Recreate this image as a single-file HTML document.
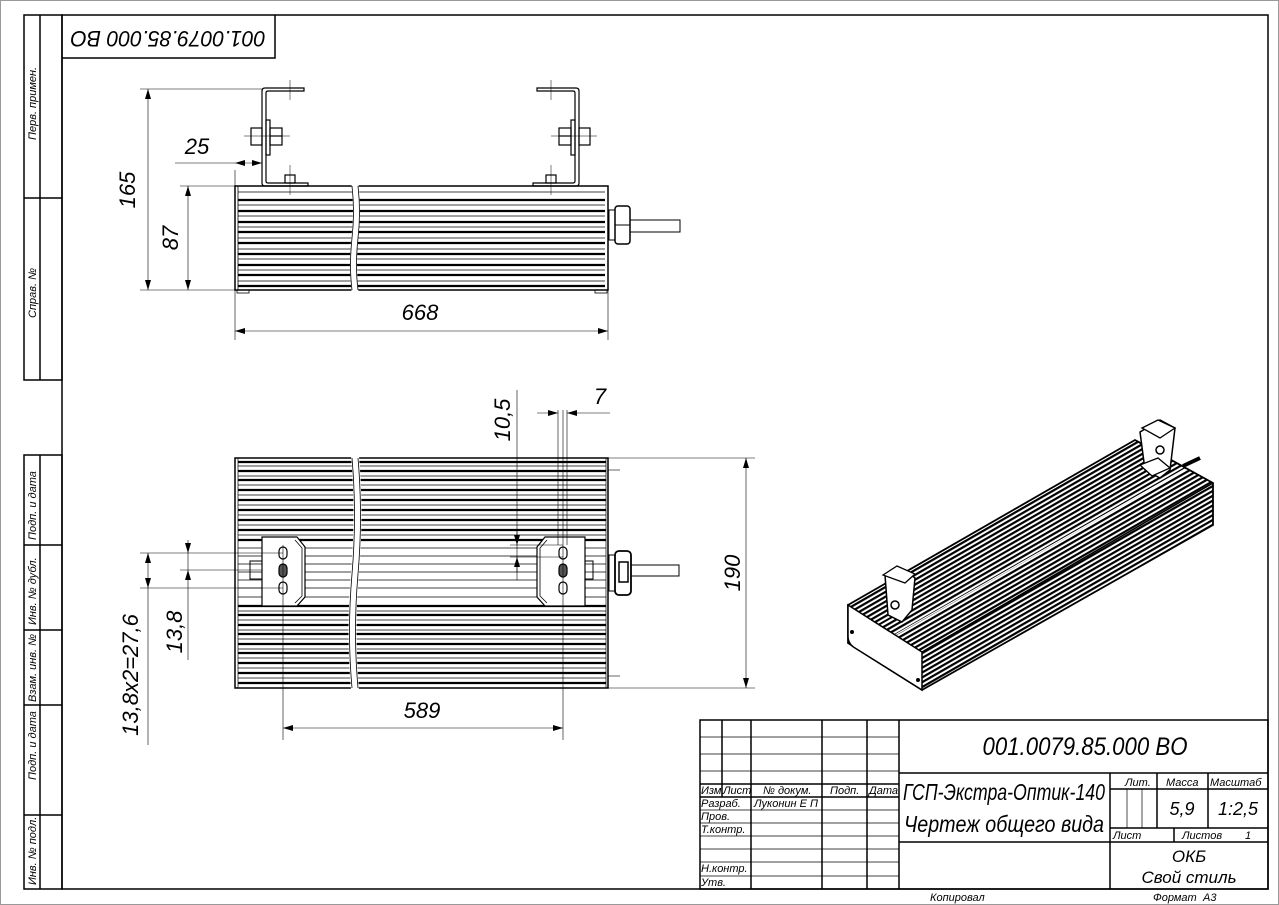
<!DOCTYPE html>
<html><head><meta charset="utf-8"><style>
html,body{margin:0;padding:0;background:#fff}
svg{display:block}
text{font-family:"Liberation Sans",sans-serif;font-style:italic;fill:#000}
</style></head><body>
<svg width="1279" height="905" viewBox="0 0 1279 905" xmlns="http://www.w3.org/2000/svg">
<defs>
<pattern id="st" width="20" height="4.2" patternUnits="userSpaceOnUse" patternTransform="rotate(-29.9)">
<rect width="20" height="4.2" fill="#fff"/><rect y="0" width="20" height="2.2" fill="#000"/>
</pattern>
<marker id="ar" viewBox="0 0 10 6" refX="10" refY="3" markerWidth="10" markerHeight="6" orient="auto-start-reverse" markerUnits="userSpaceOnUse"><path d="M0,0 L10,3 L0,6z" fill="#000"/></marker>
</defs>
<rect x="0.5" y="0.5" width="1278" height="904" fill="none" stroke="#999" stroke-width="1"/>
<!-- frame -->
<g stroke="#000" fill="none" stroke-width="1.5">
<rect x="62" y="15" width="1206" height="874"/>
<rect x="24" y="15" width="38" height="365"/>
<line x1="40" y1="15" x2="40" y2="380"/>
<line x1="24" y1="198" x2="62" y2="198"/>
<rect x="24" y="455" width="38" height="434"/>
<line x1="40" y1="455" x2="40" y2="889"/>
<line x1="24" y1="545" x2="62" y2="545"/>
<line x1="24" y1="630" x2="62" y2="630"/>
<line x1="24" y1="705" x2="62" y2="705"/>
<line x1="24" y1="815" x2="62" y2="815"/>
<polyline points="62,58 275,58 275,15"/>
</g>
<g font-size="11">
<text transform="translate(36,140) rotate(-90)">Перв. примен.</text>
<text transform="translate(36,318) rotate(-90)">Справ. №</text>
<text transform="translate(36,540) rotate(-90)">Подп. и дата</text>
<text transform="translate(36,625) rotate(-90)">Инв. № дубл.</text>
<text transform="translate(36,702) rotate(-90)">Взам. инв. №</text>
<text transform="translate(36,780) rotate(-90)">Подп. и дата</text>
<text transform="translate(36,885) rotate(-90)">Инв. № подл.</text>
</g>
<text transform="translate(168,37) rotate(180)" font-size="22" text-anchor="middle" dominant-baseline="middle" textLength="195" lengthAdjust="spacingAndGlyphs">001.0079.85.000 BO</text>

<!-- TOP VIEW (side) -->
<g stroke="#000" fill="none">
<rect x="235" y="186" width="373" height="104" stroke-width="1.5"/>
<g stroke-width="2.2">
<line x1="238" y1="200" x2="605" y2="200"/><line x1="238" y1="211" x2="605" y2="211"/><line x1="238" y1="222" x2="605" y2="222"/><line x1="238" y1="232" x2="605" y2="232"/><line x1="238" y1="243" x2="605" y2="243"/><line x1="238" y1="254" x2="605" y2="254"/><line x1="238" y1="265" x2="605" y2="265"/><line x1="238" y1="275" x2="605" y2="275"/><line x1="238" y1="286" x2="605" y2="286"/>
</g>
<g stroke-width="0.8">
<line x1="238" y1="192" x2="605" y2="192"/><line x1="238" y1="205" x2="605" y2="205"/><line x1="238" y1="216" x2="605" y2="216"/><line x1="238" y1="227" x2="605" y2="227"/><line x1="238" y1="238" x2="605" y2="238"/><line x1="238" y1="249" x2="605" y2="249"/><line x1="238" y1="259" x2="605" y2="259"/><line x1="238" y1="270" x2="605" y2="270"/><line x1="238" y1="281" x2="605" y2="281"/>
<line x1="238" y1="186" x2="238" y2="290"/>
</g>
<path d="M352,184 q3,26 0,52 q-3,28 0,56 L358,292 q-3,-28 0,-56 q3,-26 0,-52z" fill="#fff" stroke="#fff" stroke-width="1"/>
<path d="M352,186 q3,26 0,52 q-3,28 0,52 M358,186 q3,26 0,52 q-3,28 0,52" stroke-width="0.8"/>
<rect x="237" y="290" width="12" height="3" stroke-width="0.8"/><rect x="595" y="290" width="12" height="3" stroke-width="0.8"/>
<rect x="609" y="210" width="6" height="30" stroke-width="1"/>
<rect x="615" y="206" width="15" height="38" rx="3" stroke-width="1.5"/>
<line x1="615" y1="225" x2="630" y2="225"/>
<rect x="630" y="220" width="50" height="12" stroke-width="1"/>
<g id="br" stroke-width="1.2">
<path d="M304,88 L265,88 Q262,88 262,91 L262,183 Q262,186 265,186 L308,186 L308,183 L268,183 Q266,183 266,181 L266,93 Q266,91 268,91 L304,91z"/>
<rect x="251" y="128" width="11" height="17"/>
<rect x="266" y="120" width="4" height="35"/>
<rect x="270" y="128" width="12" height="17"/>
<line x1="270" y1="136" x2="282" y2="136"/>
<rect x="285" y="175" width="10" height="8"/>
<line x1="290" y1="165" x2="290" y2="195" stroke-width="0.5"/>
<line x1="290" y1="80" x2="290" y2="100" stroke-width="0.5"/>
<line x1="244" y1="136" x2="290" y2="136" stroke-width="0.5"/>
</g>
<use href="#br" transform="matrix(-1,0,0,1,841,0)"/>
<g stroke-width="0.6">
<line x1="140" y1="89" x2="262" y2="89"/><line x1="140" y1="290" x2="235" y2="290"/>
<line x1="148" y1="89" x2="148" y2="290" marker-start="url(#ar)" marker-end="url(#ar)"/>
<line x1="180" y1="186" x2="235" y2="186"/>
<line x1="188" y1="186" x2="188" y2="290" marker-start="url(#ar)" marker-end="url(#ar)"/>
<line x1="235" y1="290" x2="235" y2="340"/><line x1="608" y1="290" x2="608" y2="340"/>
<line x1="235" y1="331" x2="608" y2="331" marker-start="url(#ar)" marker-end="url(#ar)"/>
<line x1="235" y1="170" x2="235" y2="186"/>
<line x1="175" y1="163" x2="235" y2="163"/>
<line x1="235" y1="163" x2="262" y2="163" marker-start="url(#ar)" marker-end="url(#ar)"/>
</g>
</g>
<g font-size="22">
<text transform="translate(135,190) rotate(-90)" text-anchor="middle">165</text>
<text transform="translate(178,238) rotate(-90)" text-anchor="middle">87</text>
<text x="420" y="320" text-anchor="middle">668</text>
<text x="197" y="154" text-anchor="middle">25</text>
</g>

<!-- BOTTOM VIEW -->
<g stroke="#000" fill="none">
<rect x="235" y="458" width="373" height="230" stroke-width="1.5"/>
<g stroke-width="2.2">
<line x1="238" y1="462" x2="606" y2="462"/><line x1="238" y1="471" x2="606" y2="471"/><line x1="238" y1="480" x2="606" y2="480"/><line x1="238" y1="490" x2="606" y2="490"/><line x1="238" y1="500" x2="606" y2="500"/><line x1="238" y1="510" x2="606" y2="510"/><line x1="238" y1="520" x2="606" y2="520"/><line x1="238" y1="530" x2="606" y2="530"/><line x1="238" y1="540" x2="606" y2="540"/>
<line x1="238" y1="606" x2="606" y2="606"/><line x1="238" y1="615" x2="606" y2="615"/><line x1="238" y1="625" x2="606" y2="625"/><line x1="238" y1="634" x2="606" y2="634"/><line x1="238" y1="644" x2="606" y2="644"/><line x1="238" y1="653" x2="606" y2="653"/><line x1="238" y1="663" x2="606" y2="663"/><line x1="238" y1="673" x2="606" y2="673"/><line x1="238" y1="683" x2="606" y2="683"/>
</g>
<g stroke-width="0.7">
<line x1="238" y1="466" x2="606" y2="466"/><line x1="238" y1="476" x2="606" y2="476"/><line x1="238" y1="485" x2="606" y2="485"/><line x1="238" y1="495" x2="606" y2="495"/><line x1="238" y1="505" x2="606" y2="505"/><line x1="238" y1="515" x2="606" y2="515"/><line x1="238" y1="525" x2="606" y2="525"/><line x1="238" y1="535" x2="606" y2="535"/>
<line x1="238" y1="548" x2="606" y2="548"/><line x1="238" y1="556" x2="606" y2="556"/><line x1="238" y1="564" x2="606" y2="564"/><line x1="238" y1="572" x2="606" y2="572"/><line x1="238" y1="580" x2="606" y2="580"/><line x1="238" y1="588" x2="606" y2="588"/><line x1="238" y1="597" x2="606" y2="597"/>
<line x1="238" y1="611" x2="606" y2="611"/><line x1="238" y1="620" x2="606" y2="620"/><line x1="238" y1="630" x2="606" y2="630"/><line x1="238" y1="639" x2="606" y2="639"/><line x1="238" y1="649" x2="606" y2="649"/><line x1="238" y1="658" x2="606" y2="658"/><line x1="238" y1="668" x2="606" y2="668"/><line x1="238" y1="678" x2="606" y2="678"/>
<line x1="238" y1="458" x2="238" y2="688"/><line x1="606" y1="458" x2="606" y2="688"/>
</g>
<path d="M351,456 q5,58 0,116 q-5,58 0,118 L359,690 q-5,-60 0,-118 q5,-58 0,-116z" fill="#fff" stroke="none"/>
<path d="M352,458 q5,58 0,116 q-5,58 0,114 M358,458 q5,58 0,116 q-5,58 0,114" stroke-width="0.8"/>
<path d="M262,537 L297,537 L305,547 L305,597 L297,606 L262,606z" fill="#fff" stroke-width="1.2"/>
<path d="M295,540 L302,548 L302,596 L295,603" stroke-width="0.8"/>
<rect x="250" y="561" width="12" height="18" stroke-width="1"/>
<path d="M585,537 L545,537 L537,547 L537,597 L545,606 L585,606z" fill="#fff" stroke-width="1.2"/>
<path d="M547,540 L540,548 L540,596 L547,603" stroke-width="0.8"/>
<rect x="585" y="561" width="8" height="18" stroke-width="1"/>
<g stroke-width="1.2">
<rect x="279" y="547" width="8" height="12" rx="4"/><rect x="279" y="564" width="8" height="13" rx="4" fill="#555"/><rect x="279" y="582" width="8" height="12" rx="4"/>
<rect x="559" y="547" width="8" height="12" rx="4"/><rect x="559" y="564" width="8" height="13" rx="4" fill="#555"/><rect x="559" y="582" width="8" height="12" rx="4"/>
</g>
<rect x="609" y="555" width="6" height="36" stroke-width="1"/>
<rect x="615" y="551" width="16" height="44" rx="4" stroke-width="1.8"/>
<rect x="619" y="562" width="9" height="20" stroke-width="1.5"/>
<rect x="631" y="565" width="48" height="11" stroke-width="1"/>
<line x1="608" y1="470" x2="620" y2="470" stroke-width="0.6"/><line x1="608" y1="676" x2="620" y2="676" stroke-width="0.6"/>
<g stroke-width="0.6">
<line x1="608" y1="458" x2="755" y2="458"/><line x1="608" y1="688" x2="755" y2="688"/>
<line x1="746" y1="458" x2="746" y2="688" marker-start="url(#ar)" marker-end="url(#ar)"/>
<line x1="283" y1="545" x2="283" y2="740"/><line x1="563" y1="545" x2="563" y2="740"/>
<line x1="563" y1="410" x2="563" y2="545"/><line x1="558" y1="410" x2="558" y2="545"/><line x1="567" y1="410" x2="567" y2="545"/>
<line x1="283" y1="728" x2="563" y2="728" marker-start="url(#ar)" marker-end="url(#ar)"/>
<line x1="140" y1="553" x2="283" y2="553"/><line x1="140" y1="588" x2="283" y2="588"/>
<line x1="180" y1="570" x2="262" y2="570"/>
<line x1="148" y1="553" x2="148" y2="588" marker-start="url(#ar)" marker-end="url(#ar)"/>
<line x1="148" y1="588" x2="148" y2="745"/>
<line x1="188" y1="540" x2="188" y2="553" marker-end="url(#ar)"/>
<line x1="188" y1="570" x2="188" y2="588" marker-start="url(#ar)"/>
<line x1="188" y1="588" x2="188" y2="660"/>
<line x1="188" y1="553" x2="188" y2="570"/>
<line x1="517" y1="390" x2="517" y2="580"/>
<line x1="510" y1="545" x2="563" y2="545"/><line x1="510" y1="557" x2="563" y2="557"/>
<line x1="517" y1="530" x2="517" y2="545" marker-end="url(#ar)"/>
<line x1="517" y1="572" x2="517" y2="557" marker-end="url(#ar)"/>
<line x1="537" y1="413" x2="558" y2="413" marker-end="url(#ar)"/>
<line x1="590" y1="413" x2="567" y2="413" marker-end="url(#ar)"/>
<line x1="590" y1="413" x2="610" y2="413"/>
</g>
</g>
<g font-size="22">
<text transform="translate(740,573) rotate(-90)" text-anchor="middle">190</text>
<text x="422" y="718" text-anchor="middle">589</text>
<text transform="translate(138,675) rotate(-90)" text-anchor="middle">13,8x2=27,6</text>
<text transform="translate(182,632) rotate(-90)" text-anchor="middle">13,8</text>
<text transform="translate(510,420) rotate(-90)" text-anchor="middle">10,5</text>
<text x="600" y="404" text-anchor="middle">7</text>
</g>

<!-- ISO VIEW -->
<g stroke="#000" fill="none">
<polygon points="848,605 1135,440 1213,483 1213,525 922,690 848,643" fill="url(#st)" stroke-width="1.8"/>
<line x1="880" y1="626" x2="1170" y2="460" stroke="#fff" stroke-width="1.5"/>
<line x1="895" y1="635" x2="1185" y2="469" stroke="#fff" stroke-width="1.2"/>
<path d="M848,605 L922,652 L922,690 L855,648 Q848,644 848,636z" fill="#fff" stroke-width="1.5"/>
<line x1="922" y1="652" x2="1213" y2="483" stroke-width="1.5"/>
<circle cx="852" cy="632" r="1.5" fill="#000"/><circle cx="918" cy="680" r="1.5" fill="#000"/>
<path d="M885,575 L905,570 L915,578 L912,610 L902,622 L888,615z" fill="#fff" stroke-width="1.5"/>
<path d="M883,575 L897,566 L915,574 L905,583z" fill="#fff" stroke-width="1.3"/>
<circle cx="895" cy="605" r="4" stroke-width="1.5"/>
<path d="M1140,432 L1160,420 L1175,428 L1170,470 L1160,478 L1145,470z" fill="#fff" stroke-width="1.5"/>
<path d="M1142,428 L1158,420 L1175,428 L1160,438z" fill="#fff" stroke-width="1.3"/>
<circle cx="1160" cy="450" r="4" stroke-width="1.5"/>
<path d="M1140,465 L1158,458 L1170,468 L1152,476z" fill="#fff" stroke-width="1.3"/>
<line x1="1183" y1="466" x2="1200" y2="458" stroke-width="4"/>
</g>

<!-- TITLE BLOCK -->
<g stroke="#000" fill="none">
<g stroke-width="1.5">
<rect x="700" y="720" width="568" height="169"/>
<line x1="722" y1="720" x2="722" y2="797"/><line x1="751" y1="720" x2="751" y2="889"/><line x1="822" y1="720" x2="822" y2="889"/><line x1="867" y1="720" x2="867" y2="889"/><line x1="899" y1="720" x2="899" y2="889"/>
<line x1="700" y1="784" x2="899" y2="784"/><line x1="700" y1="797" x2="899" y2="797"/>
<line x1="899" y1="773" x2="1268" y2="773"/><line x1="899" y1="842" x2="1268" y2="842"/>
<line x1="1110" y1="773" x2="1110" y2="889"/><line x1="1157" y1="773" x2="1157" y2="828"/><line x1="1208" y1="773" x2="1208" y2="828"/>
<line x1="1110" y1="789" x2="1268" y2="789"/><line x1="1110" y1="828" x2="1268" y2="828"/>
<line x1="1174" y1="828" x2="1174" y2="842"/>
</g>
<g stroke-width="0.7">
<line x1="700" y1="737" x2="899" y2="737"/><line x1="700" y1="754" x2="899" y2="754"/><line x1="700" y1="771" x2="899" y2="771"/>
<line x1="700" y1="810" x2="899" y2="810"/><line x1="700" y1="823" x2="899" y2="823"/><line x1="700" y1="836" x2="899" y2="836"/><line x1="700" y1="849" x2="899" y2="849"/><line x1="700" y1="862" x2="899" y2="862"/><line x1="700" y1="876" x2="899" y2="876"/>
<line x1="1127" y1="789" x2="1127" y2="828"/><line x1="1142" y1="789" x2="1142" y2="828"/>
</g>
</g>
<g font-size="11">
<text x="701" y="794">Изм</text><text x="723" y="794">Лист</text><text x="763" y="794">№ докум.</text><text x="830" y="794">Подп.</text><text x="869" y="794">Дата</text>
<text x="701" y="807">Разраб.</text><text x="754" y="807">Луконин Е П</text>
<text x="701" y="820">Пров.</text>
<text x="701" y="833">Т.контр.</text>
<text x="701" y="872">Н.контр.</text>
<text x="701" y="886">Утв.</text>
<text x="1125" y="786">Лит.</text><text x="1166" y="786">Масса</text><text x="1210" y="786">Масштаб</text>
<text x="1113" y="839">Лист</text><text x="1182" y="839">Листов</text><text x="1245" y="839">1</text>
<text x="930" y="901">Копировал</text><text x="1153" y="901">Формат</text><text x="1203" y="901">А3</text>
</g>
<text x="1085" y="755" font-size="25" text-anchor="middle" textLength="205" lengthAdjust="spacingAndGlyphs">001.0079.85.000 BO</text>
<text x="1004" y="800" font-size="23" text-anchor="middle" textLength="202" lengthAdjust="spacingAndGlyphs">ГСП-Экстра-Оптик-140</text>
<text x="1004" y="832" font-size="23" text-anchor="middle" textLength="200" lengthAdjust="spacingAndGlyphs">Чертеж общего вида</text>
<text x="1182" y="815" font-size="18" text-anchor="middle">5,9</text>
<text x="1238" y="815" font-size="18" text-anchor="middle">1:2,5</text>
<text x="1189" y="862" font-size="17" text-anchor="middle">ОКБ</text>
<text x="1189" y="883" font-size="17" text-anchor="middle">Свой стиль</text>
</svg>
</body></html>
